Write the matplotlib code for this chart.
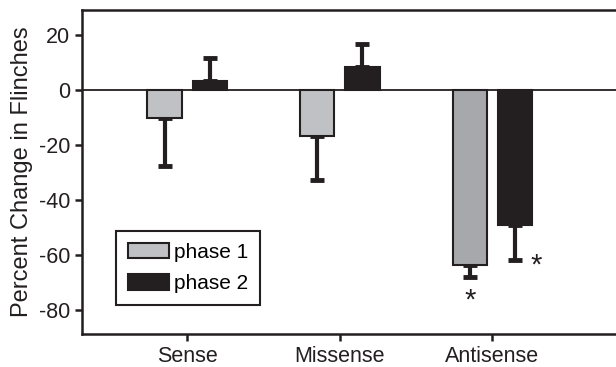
import numpy as np
import matplotlib
matplotlib.use("Agg")
import matplotlib.pyplot as plt

plt.rcParams['font.family'] = ['Liberation Sans', 'DejaVu Sans']
plt.rcParams['axes.unicode_minus'] = False

# data
categories = ["Sense", "Missense", "Antisense"]
phase1 = [-10.2, -16.7, -63.6]
phase1_err = [17.4, 16.0, 4.3]
phase2 = [3.3, 8.2, -49.1]
phase2_err = [8.3, 8.4, 12.7]
phase1_colors = ["#c0c1c4", "#c0c1c4", "#a7a8ab"]
phase2_color = "#231f20"
dark = "#231f20"

x = np.arange(len(categories))
off = 0.148
w = 0.225

fig = plt.figure(figsize=(6.16, 3.67), dpi=100)
ax = fig.add_axes([0.133, 0.09, 0.867, 0.883])

ax.axhline(0, color=dark, lw=1.3, zorder=1)

ax.bar(x - off, phase1, w, color=phase1_colors, edgecolor=dark, lw=1.5, zorder=2, label="phase 1")
ax.bar(x + off, phase2, w, color=phase2_color, edgecolor=dark, lw=1.5, zorder=2, label="phase 2")

# one-sided error bars, pointing away from zero
def err_sides(vals, errs):
    lo = [e if v < 0 else 0 for v, e in zip(vals, errs)]
    hi = [e if v >= 0 else 0 for v, e in zip(vals, errs)]
    return [lo, hi]

ax.errorbar(x - off, phase1, yerr=err_sides(phase1, phase1_err), fmt="none",
            ecolor=dark, elinewidth=3, capsize=5, capthick=3.5, zorder=1.5)
ax.errorbar(x + off, phase2, yerr=err_sides(phase2, phase2_err), fmt="none",
            ecolor=dark, elinewidth=3, capsize=5, capthick=3.5, zorder=1.5)

# significance markers
ax.text(x[2] - off, phase1[2] - phase1_err[2] - 3.5, "*", ha="center", va="top",
        fontsize=21, color=dark)
ax.text(x[2] + off + 0.14, phase2[2] - phase2_err[2] + 3, "*", ha="center", va="top",
        fontsize=21, color=dark)

ax.set_xlim(-0.69, 2.81)
ax.set_ylim(-88.7, 29.1)
ax.set_yticks([20, 0, -20, -40, -60, -80])
ax.set_xticks(x)
ax.set_xticklabels(categories)
ax.tick_params(axis="both", labelsize=15.5, width=1.8, length=5, color=dark, labelcolor=dark)
ax.set_ylabel("Percent Change in Flinches", fontsize=17, color=dark, labelpad=4)

for s in ["left", "bottom", "top"]:
    ax.spines[s].set_linewidth(1.8)
    ax.spines[s].set_color(dark)
ax.spines["right"].set_visible(False)

leg = ax.legend(loc="lower left", bbox_to_anchor=(0.064, 0.09), fontsize=15,
                fancybox=False, framealpha=1, edgecolor=dark, borderaxespad=0,
                handlelength=2.0, handleheight=0.75, handletextpad=0.25,
                labelspacing=0.6, borderpad=0.55)
leg.get_frame().set_linewidth(1.5)

fig.savefig("out.png", dpi=100)
